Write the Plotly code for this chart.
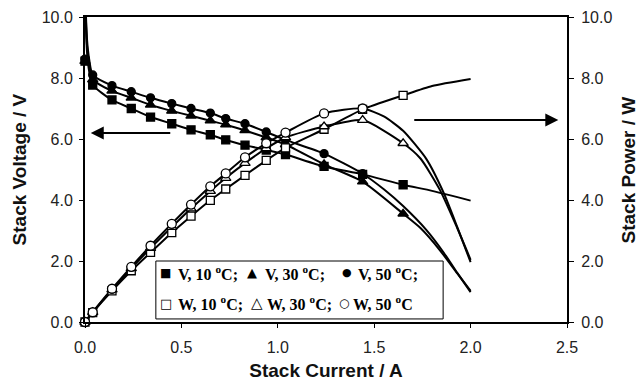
import plotly.graph_objects as go

# Measured stack data: current (A), voltage (V) and power (W) at three temperatures
current = [0.00, 0.04, 0.14, 0.24, 0.34, 0.45, 0.55, 0.65, 0.73, 0.83, 0.94, 1.04, 1.24, 1.44, 1.65]
current_50 = current[:14]

v10 = [8.55, 7.77, 7.28, 7.00, 6.72, 6.50, 6.30, 6.14, 5.97, 5.80, 5.64, 5.49, 5.10, 4.84, 4.50]
v30 = [8.55, 7.95, 7.58, 7.35, 7.12, 6.92, 6.76, 6.60, 6.47, 6.28, 6.05, 5.82, 5.17, 4.60, 3.55]
v50 = [8.62, 8.10, 7.75, 7.55, 7.35, 7.16, 7.00, 6.85, 6.67, 6.50, 6.23, 5.97, 5.52, 4.86]

w10 = [0.00, 0.31, 1.02, 1.68, 2.28, 2.93, 3.47, 3.99, 4.36, 4.81, 5.30, 5.71, 6.32, 6.97, 7.43]
w30 = [0.00, 0.32, 1.06, 1.76, 2.42, 3.11, 3.72, 4.29, 4.72, 5.21, 5.69, 6.05, 6.41, 6.62, 5.86]
w50 = [0.00, 0.32, 1.09, 1.81, 2.50, 3.22, 3.85, 4.45, 4.87, 5.40, 5.86, 6.21, 6.84, 7.00]

# Model curve: steep rise towards open circuit at very low current
spike_current = [0.003, 0.010, 0.022]
v10_spike = [10.2, 8.9, 8.2]
v30_spike = [10.3, 9.1, 8.4]
v50_spike = [10.4, 9.3, 8.6]

# Model curve extrapolated beyond the measured range
ext10_current = [1.80, 2.00]
v10_ext = [4.30, 3.98]
w10_ext = [7.74, 7.97]

ext30_current = [1.74, 1.84, 1.93, 2.00]
v30_ext = [3.08, 2.36, 1.60, 1.02]
w30_ext = [5.36, 4.34, 3.09, 2.04]

ext50_current = [1.55, 1.65, 1.77, 1.86, 1.93, 2.00]
v50_ext = [4.35, 3.80, 3.02, 2.28, 1.62, 0.98]
w50_ext = [6.74, 6.27, 5.35, 4.24, 3.13, 1.96]

x_ticks = [0.0, 0.5, 1.0, 1.5, 2.0, 2.5]
y_ticks = [0.0, 2.0, 4.0, 6.0, 8.0, 10.0]

BLACK = "#000000"
LINE_W = 2

fig = go.Figure()


def add_curve(xs, ys, axis):
    fig.add_trace(go.Scatter(
        x=xs, y=ys, mode="lines", yaxis=axis,
        line=dict(color=BLACK, width=LINE_W, shape="spline", smoothing=0.6),
        hoverinfo="skip", showlegend=False,
    ))


def add_points(xs, ys, axis, symbol, filled, size):
    fig.add_trace(go.Scatter(
        x=xs, y=ys, mode="markers", yaxis=axis, cliponaxis=False,
        marker=dict(symbol=symbol, size=size,
                    color=BLACK if filled else "white",
                    line=dict(color=BLACK, width=1.3)),
        showlegend=False,
    ))


# Voltage curves (left axis)
add_curve(spike_current + current[1:] + ext10_current, v10_spike + v10[1:] + v10_ext, "y")
add_curve(spike_current + current[1:] + ext30_current, v30_spike + v30[1:] + v30_ext, "y")
add_curve(spike_current + current_50[1:] + ext50_current, v50_spike + v50[1:] + v50_ext, "y")

# Power curves (right axis)
add_curve(current + ext10_current, w10 + w10_ext, "y2")
add_curve(current + ext30_current, w30 + w30_ext, "y2")
add_curve(current_50 + ext50_current, w50 + w50_ext, "y2")

# Measured points
add_points(current, v10, "y", "square", True, 8)
add_points(current, v30, "y", "triangle-up", True, 9)
add_points(current_50, v50, "y", "circle", True, 8)
add_points(current, w10, "y2", "square", False, 8)
add_points(current, w30, "y2", "triangle-up", False, 9)
add_points(current_50, w50, "y2", "circle", False, 9)

tick_font = dict(family="Liberation Sans, Arial, sans-serif", size=16, color="#222222")
title_font = dict(family="Liberation Sans, Arial, sans-serif", size=19, color="#111111")

fig.update_layout(
    width=639, height=381,
    margin=dict(l=85, r=72, t=17, b=59),
    paper_bgcolor="white", plot_bgcolor="white",
    showlegend=False,
    xaxis=dict(
        range=[0, 2.5], tickvals=x_ticks, tickformat=".1f", automargin=False,
        showgrid=False, zeroline=False,
        showline=True, linewidth=2, linecolor=BLACK, mirror=True,
        ticks="outside", ticklen=4, tickcolor=BLACK, tickfont=tick_font,
        ticklabelstandoff=6,
        title=dict(text="<b>Stack Current / A</b>", font=title_font, standoff=10),
    ),
    yaxis=dict(
        range=[0, 10], tickvals=y_ticks, tickformat=".1f", automargin=False,
        showgrid=False, zeroline=False,
        showline=True, linewidth=2, linecolor=BLACK,
        ticks="outside", ticklen=4, tickcolor=BLACK, tickfont=tick_font,
        ticklabelstandoff=3,
    ),
    yaxis2=dict(
        range=[0, 10], tickvals=y_ticks, tickformat=".1f", automargin=False,
        overlaying="y", side="right",
        showgrid=False, zeroline=False,
        showline=True, linewidth=2, linecolor=BLACK,
        ticks="outside", ticklen=5, tickcolor=BLACK, tickfont=tick_font,
        ticklabelstandoff=4,
    ),
)

# Vertical axis titles, placed at the outer edges of the figure
fig.add_annotation(x=-0.135, y=0.5, xref="paper", yref="paper", textangle=-90,
                   xanchor="center", yanchor="middle", showarrow=False,
                   text="<b>Stack Voltage / V</b>", font=title_font)
fig.add_annotation(x=1.1286, y=0.5, xref="paper", yref="paper", textangle=-90,
                   xanchor="center", yanchor="middle", showarrow=False,
                   text="<b>Stack Power / W</b>", font=title_font)

# Arrows pointing to the axis each family of curves belongs to
fig.add_annotation(x=0.03, y=6.2, ax=0.45, ay=6.2, xref="x", yref="y", axref="x", ayref="y",
                   text="", showarrow=True, arrowhead=2, arrowsize=1.3, arrowwidth=2,
                   arrowcolor=BLACK)
fig.add_annotation(x=2.455, y=6.62, ax=1.70, ay=6.62, xref="x", yref="y", axref="x", ayref="y",
                   text="", showarrow=True, arrowhead=2, arrowsize=1.3, arrowwidth=2,
                   arrowcolor=BLACK)

# Key box
fig.add_shape(type="rect", xref="paper", yref="paper",
              x0=0.147, x1=0.743, y0=0.010, y1=0.200,
              line=dict(color=BLACK, width=1), fillcolor="white", layer="above")

legend_font = dict(family="Liberation Serif, Times New Roman, serif", size=16, color=BLACK)
symbol_font = "DejaVu Sans, sans-serif"

# (symbol, symbol x, symbol size, label, label x) per row
legend_rows = [
    (0.161, [("■", 0.166, 12, "V, 10 <sup>o</sup>C;", 0.189),
             ("▲", 0.347, 13, "V, 30 <sup>o</sup>C;", 0.369),
             ("●", 0.543, 11, "V, 50 <sup>o</sup>C;", 0.562)]),
    (0.062, [("□", 0.168, 13, "W, 10 <sup>o</sup>C;", 0.189),
             ("△", 0.356, 15, "W, 30 <sup>o</sup>C;", 0.373),
             ("○", 0.537, 12, "W, 50 <sup>o</sup>C", 0.552)]),
]
for y_pos, entries in legend_rows:
    for sym, sx, ssize, label, lx in entries:
        fig.add_annotation(x=sx, y=y_pos, xref="paper", yref="paper",
                           xanchor="center", yanchor="middle", showarrow=False,
                           text=sym, font=dict(family=symbol_font, size=ssize, color=BLACK))
        fig.add_annotation(x=lx, y=y_pos, xref="paper", yref="paper",
                           xanchor="left", yanchor="middle", showarrow=False,
                           text="<b>" + label + "</b>", font=legend_font)

fig.write_html("out.html")
